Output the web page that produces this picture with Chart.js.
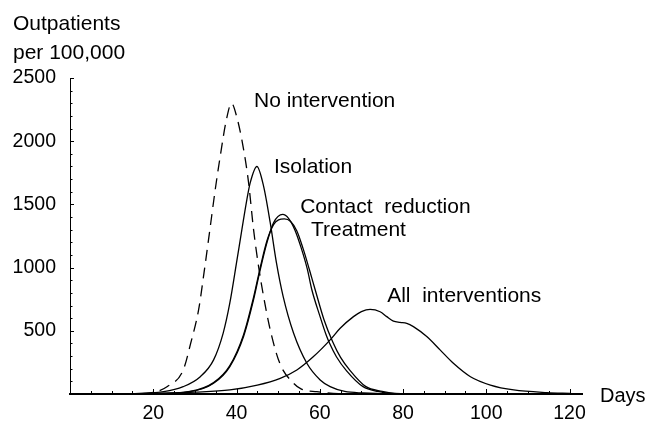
<!DOCTYPE html>
<html>
<head>
<meta charset="utf-8">
<script src="https://cdn.jsdelivr.net/npm/chart.js@4/dist/chart.umd.min.js"></script>
<style>
  html, body { margin: 0; padding: 0; background: #fff; }
  #wrap { width: 648px; height: 423px; }
</style>
</head>
<body>
<div id="wrap"><canvas id="myChart"></canvas></div>
<script>
// values (day -> outpatients per 100,000)
const noInterventionDays   = [0, 10, 16, 19.2, 23.3, 27.2, 29.0, 30.9, 32.2, 33.5, 34.9, 36.1, 37.6, 38.8, 40.0, 41.7, 42.9, 44.1, 45.3, 46.5, 48.1, 50.4, 53.7, 55.5, 59.3, 65, 75, 120];
const noInterventionValues = [0, 0, 2, 8, 58, 190, 402, 667, 960, 1275, 1619, 1883, 2175, 2300, 2200, 1936, 1672, 1300, 1010, 772, 508, 243, 85, 40, 18, 3, 0, 0];

const isolationDays   = [0, 15, 22.5, 27.2, 31.3, 34.5, 36.8, 38.4, 40.0, 41.3, 42.5, 43.3, 44.9, 46.5, 48.1, 49.6, 51.2, 53.7, 56.9, 60.1, 62.5, 66, 70.4, 80, 120];
const isolationValues = [0, 3, 18, 58, 137, 270, 482, 720, 1037, 1302, 1540, 1672, 1800, 1645, 1355, 1037, 772, 482, 243, 111, 58, 20, 8, 0, 0];

const contactDays   = [0, 20, 28.8, 34.5, 38.4, 41.7, 44.1, 45.7, 47.3, 48.9, 51.1, 52.5, 54, 55.5, 57, 58.1, 60, 61.5, 62.3, 64, 66.4, 70.4, 74, 77, 85, 120];
const contactValues = [0, 2, 18, 85, 217, 455, 746, 984, 1196, 1355, 1421, 1390, 1300, 1160, 990, 825, 620, 470, 405, 295, 185, 58, 20, 5, 0, 0];

const treatmentDays   = [0, 20, 28.8, 34.5, 38.4, 41.7, 44.1, 45.7, 47.3, 48.9, 50.1, 51.5, 53, 54.5, 56, 57.5, 58.9, 61, 63.1, 65, 67.3, 71, 75, 78, 86, 120];
const treatmentValues = [0, 2, 20, 90, 225, 470, 765, 1000, 1210, 1340, 1378, 1385, 1365, 1290, 1150, 985, 825, 590, 414, 290, 185, 60, 20, 5, 0, 0];

const allDays   = [0, 20, 30, 38.4, 45, 50.5, 54.5, 58.5, 62.5, 64.9, 68.1, 70, 72.1, 74.5, 76.1, 77.7, 79.3, 80.9, 82.5, 85.7, 88.9, 92.1, 96.2, 101, 106.6, 114.6, 120.2];
const allValues = [0, 5, 15, 32, 70, 124, 190, 296, 428, 520, 612, 652, 670, 651, 612, 577, 567, 559, 533, 454, 349, 243, 137, 71, 32, 11, 5];

const xTickLabels = [20, 40, 60, 80, 100, 120];
const yTickLabels = [500, 1000, 1500, 2000, 2500];

// curve labels, placed in data coordinates (left edge, baseline)
const curveLabels = [
    {text: 'No intervention', day: 44.2, value: 2271},
    {text: 'Isolation', day: 49.0, value: 1748},
    {text: 'Contact  reduction', day: 55.3, value: 1432},
    {text: 'Treatment', day: 57.9, value: 1250},
    {text: 'All  interventions', day: 76.2, value: 728}
];

const FONT = '"Liberation Sans", Arial, sans-serif';

function toPoints(days, values){
    const pts = [];
    for(let i=0; i<days.length; i++){
        pts.push({x: days[i], y: values[i]});
    }
    return pts;
}

function curve(days, values, dashed){
    return {
        data: toPoints(days, values),
        borderColor: '#000',
        borderWidth: 1.3,
        borderDash: dashed ? [11, 7] : [],
        pointRadius: 0,
        fill: false,
        cubicInterpolationMode: 'monotone'
    };
}

// inward ticks + free text (axis titles and curve names)
const decorations = {
    id: 'decorations',
    afterDraw(chart){
        const ctx = chart.ctx;
        const xs = chart.scales.x;
        const ys = chart.scales.y;
        const area = chart.chartArea;
        ctx.save();
        ctx.strokeStyle = '#000';
        ctx.lineWidth = 1;
        // x ticks every 5 days, longer on labelled ones
        for(let d=5; d<=120; d+=5){
            const px = Math.round(xs.getPixelForValue(d)) + 0.5;
            const len = xTickLabels.includes(d) ? 5 : 3;
            ctx.beginPath();
            ctx.moveTo(px, area.bottom);
            ctx.lineTo(px, area.bottom - len);
            ctx.stroke();
        }
        // y ticks every 100
        for(let v=100; v<=2500; v+=100){
            const py = Math.round(ys.getPixelForValue(v)) + 0.5;
            const len = yTickLabels.includes(v) ? 4 : 2.5;
            ctx.beginPath();
            ctx.moveTo(area.left, py);
            ctx.lineTo(area.left + len, py);
            ctx.stroke();
        }

        ctx.fillStyle = '#000';
        ctx.font = '21px ' + FONT;
        ctx.textAlign = 'left';
        ctx.textBaseline = 'alphabetic';
        ctx.fillText('Outpatients', 13, 30);
        ctx.fillText('per 100,000', 13, 59);
        curveLabels.forEach(l => {
            ctx.fillText(l.text, xs.getPixelForValue(l.day), ys.getPixelForValue(l.value));
        });
        ctx.font = '20px ' + FONT;
        ctx.fillText('Days', area.right + 18, area.bottom + 8);
        ctx.restore();
    }
};

new Chart(document.getElementById('myChart'), {
    type: 'line',
    data: {
        datasets: [
            curve(noInterventionDays, noInterventionValues, true),
            curve(isolationDays, isolationValues, false),
            curve(contactDays, contactValues, false),
            curve(treatmentDays, treatmentValues, false),
            curve(allDays, allValues, false)
        ]
    },
    options: {
        responsive: true,
        maintainAspectRatio: false,
        animation: false,
        layout: {padding: {left: 0, top: 78, right: 66, bottom: 0}},
        plugins: {legend: {display: false}, tooltip: {enabled: false}},
        scales: {
            x: {
                type: 'linear',
                min: 0,
                max: 123,
                grid: {display: false, drawTicks: false},
                border: {display: true, color: '#000', width: 2},
                afterBuildTicks: scale => { scale.ticks = xTickLabels.map(v => ({value: v})); },
                afterFit: scale => { scale.height = 29; },
                ticks: {color: '#000', font: {family: FONT, size: 19.5}, padding: 8, maxRotation: 0, autoSkip: false,
                        callback: v => String(v)}
            },
            y: {
                min: 0,
                max: 2500,
                grid: {display: false, drawTicks: false},
                border: {display: true, color: '#000', width: 1},
                afterBuildTicks: scale => { scale.ticks = yTickLabels.map(v => ({value: v})); },
                afterFit: scale => { scale.width = 70; },
                ticks: {color: '#000', font: {family: FONT, size: 19.5}, padding: 14, autoSkip: false,
                        callback: v => String(v)}
            }
        }
    },
    plugins: [decorations]
});
</script>
</body>
</html>
